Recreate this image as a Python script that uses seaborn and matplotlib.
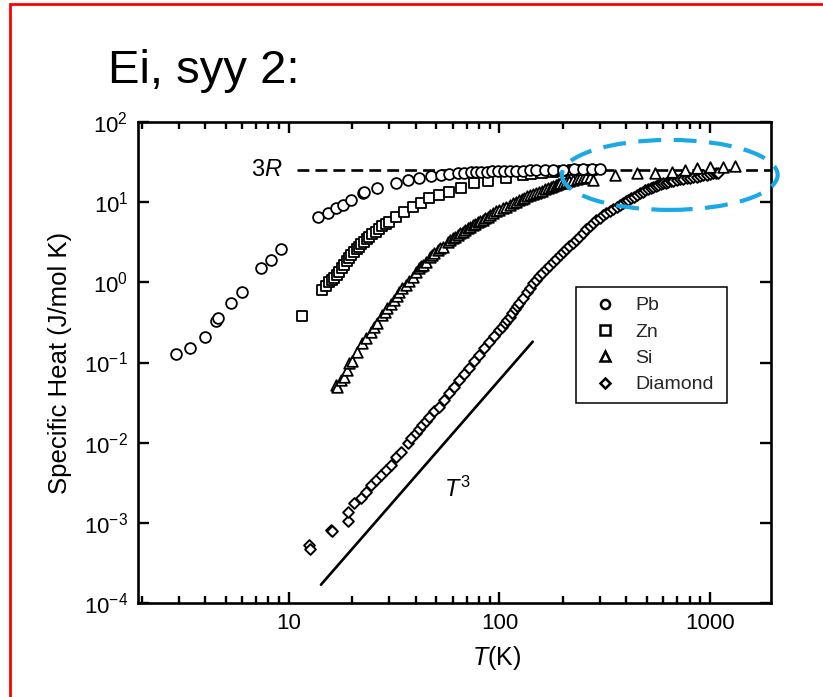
import numpy as np
import pandas as pd
import matplotlib
matplotlib.use("Agg")
import matplotlib.pyplot as plt
from matplotlib.patches import Ellipse, Rectangle
from matplotlib.lines import Line2D
from matplotlib.ticker import FixedLocator, FixedFormatter, LogLocator, NullLocator, NullFormatter
import seaborn as sns

# ---------------- data ----------------
pb_T = [2.9, 3.4, 4.0, 4.5, 4.6, 5.3, 6.0, 7.4, 8.2, 9.2,
        13.7, 15.3, 16.7, 18.1, 19.7, 22.5, 22.8, 26.3, 32.2, 36.6, 41.6, 47.3,
        52.7, 57.8, 63.3, 68, 73, 77.4, 82, 87, 92, 98, 105, 112, 120, 130,
        140, 150, 165, 180, 200, 225, 250, 275, 300]
pb_C = [0.127, 0.151, 0.21, 0.33, 0.356, 0.558, 0.766, 1.5, 1.9, 2.59,
        6.6, 7.4, 8.4, 9.2, 10.6, 13.2, 13.5, 14.9, 17.5, 18.9, 20.2, 21.4,
        21.8, 22.5, 22.9, 23.4, 23.6, 23.8, 24.0, 24.1, 24.2, 24.3, 24.4, 24.5, 24.6, 24.8,
        24.9, 25.0, 25.1, 25.3, 25.4, 25.6, 25.8, 26.0, 26.2]

zn_T = [11.6, 14.4, 15.0, 15.5, 16.0, 16.4, 16.9, 17.3, 17.8, 18.3, 18.8, 19.3,
        19.8, 20.4, 21.0, 21.5, 22.1, 22.8, 23.4, 24.0, 24.9, 25.9, 26.8, 27.8,
        28.8, 29.9, 32.2, 35.3, 38.7, 42.4, 46.4, 51.8, 57.8, 65.7, 76, 88, 108,
        129, 142, 160, 179, 200, 223, 248, 274]
zn_C = [0.385, 0.80, 0.90, 1.02, 1.08, 1.12, 1.25, 1.36, 1.50, 1.65, 1.82, 2.0,
        2.2, 2.41, 2.6, 2.79, 3.0, 3.22, 3.45, 3.72, 4.0, 4.29, 4.65, 5.05,
        5.4, 5.71, 6.6, 7.6, 8.8, 9.7, 11.2, 12.3, 13.5, 14.9, 17.2, 18.5, 19.9,
        21.8, 22.5, 23.2, 24.0, 24.6, 25.2, 25.2, 25.2]

si_T = [16.7, 17.0, 17.6, 18.2, 18.9, 19.3, 20.0, 21.1, 22.3, 23.3, 24.5, 25.4,
        26.3, 27.8, 28.5, 29.4, 30.5, 31.6, 32.5, 33.4, 34.6, 36.0, 37.3, 38.7,
        40.1, 41.6, 42.4, 43.2, 44.8, 46.8, 47.9, 49.0, 51.3, 52.5, 53.7, 56.8,
        58.4, 60.0, 61.6, 63.3, 65.1, 66.9, 68.8, 70.7, 72.6, 74.6, 76.7, 78.8,
        81.0, 83.2, 85.5, 88, 90.4, 92.9, 96.4, 100, 104, 108, 112, 116, 120,
        124, 128, 131, 135, 139, 144, 149, 155, 160, 165, 170, 175, 180, 185,
        190, 195, 200, 207, 215, 224, 233, 241, 250, 259, 268, 277, 353, 448,
        547, 657, 760, 864, 1000, 1150, 1315]
si_C = [0.053, 0.050, 0.061, 0.066, 0.081, 0.098, 0.105, 0.137, 0.174, 0.20, 0.243, 0.275,
        0.309, 0.392, 0.43, 0.475, 0.54, 0.604, 0.68, 0.766, 0.85, 0.929, 1.05, 1.18,
        1.33, 1.50, 1.58, 1.65, 1.81, 2.05, 2.18, 2.31, 2.55, 2.67, 2.79, 3.15,
        3.35, 3.55, 3.73, 3.92, 4.1, 4.29, 4.5, 4.75, 4.97, 5.2, 5.4, 5.6,
        5.8, 6.0, 6.3, 6.6, 6.95, 7.3, 7.65, 8.0, 8.4, 8.8, 9.2, 9.7, 10.1,
        10.6, 11.0, 11.4, 11.8, 12.3, 12.6, 12.9, 13.3, 13.8, 14.4, 15.0, 15.5, 16.0, 16.4,
        16.8, 17.1, 17.4, 18.0, 18.5, 19.0, 19.6, 19.9, 20.2, 20.4, 20.6, 18.9, 21.8, 22.9,
        23.3, 24.0, 25.2, 26.5, 27.7, 27.8, 28.5]

dia_T = [12.5, 12.6, 15.8, 16.1, 19.0, 19.0, 20.4, 21.9, 23.2, 24.5, 25.9, 27.3,
         28.9, 30.5, 32.2, 34.0, 36.6, 38.2, 40.1, 41.5, 43.1, 44.7, 46.4, 49.0,
         51.8, 54.7, 57.8, 61.0, 64.5, 68.1, 72.0, 76.0, 80.3, 84.8, 89.6, 94.7,
         100, 103, 106, 109, 112, 115, 118, 121, 124, 129, 135, 140, 145,
         150, 155, 160, 166, 172, 179, 186, 193, 200, 208, 215, 223, 231, 240,
         249, 258, 268, 278, 289, 300, 311, 322, 334, 347, 360, 373, 385, 398,
         410, 424, 438, 452, 466, 481, 494, 508, 522, 537, 552, 568, 584, 600,
         617, 634, 651, 669, 694, 720, 746, 774, 802, 833, 864, 896, 930, 965,
         1000, 1037, 1065, 1092]
dia_C = [0.00053, 0.00047, 0.00082, 0.00078, 0.00104, 0.00138, 0.00176, 0.00203,
         0.00245, 0.00298, 0.00344, 0.00397, 0.00458, 0.00529, 0.0067, 0.0077,
         0.0099, 0.0114, 0.0131, 0.0148, 0.0167, 0.0188, 0.0212, 0.0245, 0.0282,
         0.034, 0.0414, 0.050, 0.0607, 0.072, 0.0849, 0.103, 0.124, 0.150, 0.182,
         0.215, 0.255, 0.28, 0.31, 0.34, 0.37, 0.41, 0.46, 0.50, 0.55, 0.64, 0.76,
         0.86, 0.97, 1.08, 1.20, 1.32, 1.45, 1.60, 1.78, 1.97, 2.17, 2.38, 2.6,
         2.85, 3.1, 3.4, 3.72, 4.1, 4.6, 5.0, 5.5, 5.95, 6.4, 6.85, 7.3, 7.75, 8.2,
         8.7, 9.2, 9.7, 10.2, 10.7, 11.2, 11.7, 12.3, 12.9, 13.5, 14.0, 14.5, 15.0,
         15.6, 16.0, 16.4, 16.8, 17.2, 17.5, 17.9, 18.2, 18.5, 18.9, 19.2, 19.6,
         19.9, 20.2, 20.5, 20.9, 21.2, 21.7, 22.1, 22.5, 22.9, 23.1, 23.4]

# 3R (Dulong-Petit) line and T^3 guide line
R3_T = [10.9, 1950]
R3_C = [24.94, 24.94]
T3_T = [14.2, 144]
T3_C = [1.69e-4, 0.182]

materials = ["Pb", "Zn", "Si", "Diamond"]
X_TICKS = [10, 100, 1000]
X_TICK_LABELS = ["10", "100", "1000"]
Y_TICKS = [1e-4, 1e-3, 1e-2, 1e-1, 1e0, 1e1, 1e2]
Y_TICK_LABELS = [r"$10^{-4}$", r"$10^{-3}$", r"$10^{-2}$", r"$10^{-1}$",
                 r"$10^{0}$", r"$10^{1}$", r"$10^{2}$"]

# ---------------- style ----------------
sns.set_theme(style="ticks")
plt.rcParams["font.family"] = ["Liberation Sans", "DejaVu Sans"]
plt.rcParams["mathtext.fontset"] = "custom"
plt.rcParams["mathtext.rm"] = "Liberation Sans"
plt.rcParams["mathtext.it"] = "Liberation Sans:italic"
plt.rcParams["mathtext.bf"] = "Liberation Sans:bold"
plt.rcParams["mathtext.sf"] = "Liberation Sans"
plt.rcParams["axes.unicode_minus"] = True

W, H = 823, 697
fig = plt.figure(figsize=(W / 100, H / 100), dpi=100)
fig.patch.set_facecolor("white")
ax = fig.add_axes([138 / W, 1 - 603 / H, 633 / W, 481 / H])
ax.set_xscale("log")
ax.set_yscale("log")

# lines
sns.lineplot(x=R3_T, y=R3_C, ax=ax, color="black", linewidth=1.9,
             linestyle=(0, (4.5, 2.3)), zorder=1, legend=False)
sns.lineplot(x=T3_T, y=T3_C, ax=ax, color="black", linewidth=1.9,
             zorder=1, legend=False)

def frame_of(T, C):
    return pd.DataFrame({"T": T, "C": C}).sort_values("T", kind="stable")

common = dict(ax=ax, x="T", y="C", facecolor="white", edgecolor="black",
              legend=False, zorder=3)
sns.scatterplot(data=frame_of(dia_T, dia_C), marker="D", s=30, linewidth=1.4, **common)
sns.scatterplot(data=frame_of(si_T, si_C), marker="^", s=58, linewidth=1.3, **common)
sns.scatterplot(data=frame_of(zn_T, zn_C), marker="s", s=62, linewidth=1.3, **common)
sns.scatterplot(data=frame_of(pb_T, pb_C), marker="o", s=60, linewidth=1.3, **common)

ax.set_xlim(1.92, 1950)
ax.set_ylim(1e-4, 1e2)

# ticks
ax.xaxis.set_major_locator(FixedLocator(X_TICKS))
ax.xaxis.set_major_formatter(FixedFormatter(X_TICK_LABELS))
ax.xaxis.set_minor_locator(LogLocator(base=10, subs=np.arange(2, 10), numticks=20))
ax.xaxis.set_minor_formatter(NullFormatter())
ax.yaxis.set_major_locator(FixedLocator(Y_TICKS))
ax.yaxis.set_major_formatter(FixedFormatter(Y_TICK_LABELS))
ax.yaxis.set_minor_locator(NullLocator())
ax.tick_params(which="both", direction="in", top=True, right=True,
               width=1.7, color="black", labelcolor="black")
ax.tick_params(which="major", length=8, labelsize=16, pad=7)
ax.tick_params(which="minor", length=5)
for sp in ax.spines.values():
    sp.set_linewidth(1.9)
    sp.set_color("black")

ax.set_xlabel(r"$T$(K)", fontsize=18, color="black")
ax.set_ylabel("Specific Heat (J/mol K)", fontsize=18.5, color="black")
ax.xaxis.set_label_coords(0.567, -0.085)
ax.yaxis.set_label_coords(-0.105, 0.5)

# annotations
ax.text(9.3, 24.94, r"$3R$", ha="right", va="center", fontsize=17, color="black")
ax.text(63, 2.6e-3, r"$T^3$", ha="center", va="center", fontsize=17, color="black")

# legend
handles = [
    Line2D([], [], ls="none", marker="o", ms=6.5, mfc="white", mec="black", mew=1.8),
    Line2D([], [], ls="none", marker="s", ms=6.5, mfc="white", mec="black", mew=1.8),
    Line2D([], [], ls="none", marker="^", ms=6.5, mfc="white", mec="black", mew=1.8),
    Line2D([], [], ls="none", marker="D", ms=5.0, mfc="white", mec="black", mew=1.8),
]
leg = ax.legend(handles, materials, loc="upper left",
                bbox_to_anchor=(0.692, 0.457, 0.238, 0.2), mode="expand",
                borderaxespad=0, frameon=True, fancybox=False, edgecolor="black",
                framealpha=1, fontsize=14, handlelength=2.0, handletextpad=0.55,
                borderpad=0.5, labelspacing=0.45)
leg.get_frame().set_linewidth(1.1)

# highlight ellipse
ell = Ellipse((0.840, 0.890), 0.341, 0.1455, transform=ax.transAxes, fill=False,
              edgecolor="#1AA9E6", linewidth=3.0, linestyle=(0, (5.5, 3.0)),
              clip_on=False, zorder=6)
ax.add_patch(ell)

# slide title and frame
fig.text(108 / W, 1 - 83 / H, "Ei, syy 2:", fontsize=34, ha="left", va="baseline",
         color="black")
frame = Rectangle((10 / W, -0.5), 2.0, 0.5 + 1 - 4 / H, transform=fig.transFigure,
                  fill=False, edgecolor="red", linewidth=2.0, clip_on=False)
fig.add_artist(frame)

fig.savefig("out.png", dpi=100)
